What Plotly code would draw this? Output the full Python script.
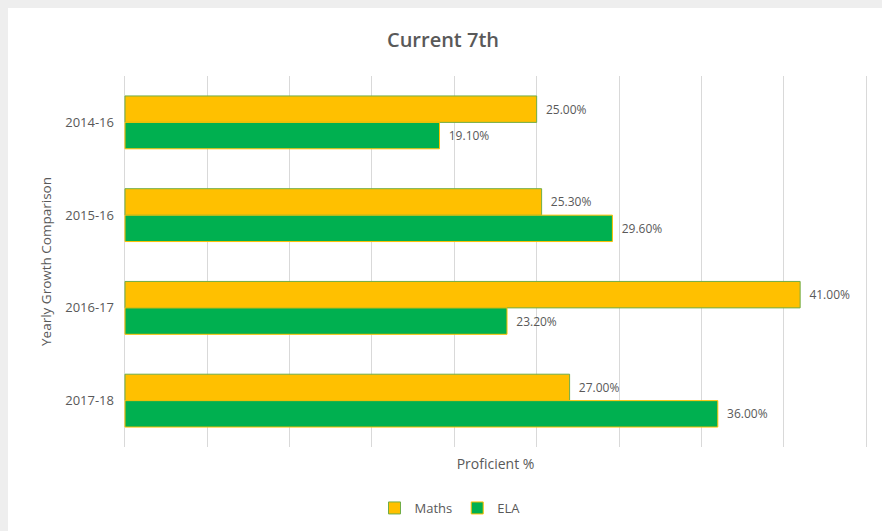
import plotly.graph_objects as go

categories = ["2014-16", "2015-16", "2016-17", "2017-18"]
maths = [25.0, 25.3, 41.0, 27.0]
ela = [19.1, 29.6, 23.2, 36.0]

# figure sits inside the page's 8px body margin (page shows grey frame)
W, H = 874, 523
ml, mr, mt, mb = 115, 14, 68, 84
pw = W - ml - mr
ph = H - mt - mb

font_family = "Open Sans, Liberation Sans, sans-serif"
grey = "#595959"
pad = "\u00a0\u00a0"

fig = go.Figure()
fig.add_trace(go.Bar(
    y=categories, x=maths, name="Maths", orientation="h",
    marker=dict(color="#FFC000", line=dict(color="#70AD47", width=1)),
    text=[f"{pad}{v:.2f}%" for v in maths], textposition="outside",
    textfont=dict(color=grey, size=12, family=font_family),
    cliponaxis=False,
))
fig.add_trace(go.Bar(
    y=categories, x=ela, name="ELA", orientation="h",
    marker=dict(color="#00B050", line=dict(color="#FFC000", width=1)),
    text=[f"{pad}{v:.2f}%" for v in ela], textposition="outside",
    textfont=dict(color=grey, size=12, family=font_family),
    cliponaxis=False,
))

def px_to_paper_x(px):
    return (px - ml) / pw

def px_to_paper_y(py):
    return (H - mb - py) / ph

fig.update_layout(
    width=W, height=H,
    margin=dict(l=ml, r=mr, t=mt, b=mb, autoexpand=False),
    paper_bgcolor="white",
    plot_bgcolor="white",
    barmode="group",
    bargap=0.43,
    bargroupgap=0,
    title=dict(text="Current 7th", x=px_to_paper_x(435), xref="paper", xanchor="center",
               y=1 - 32 / H, yanchor="middle",
               font=dict(family=font_family, size=20, color=grey, weight=600)),
    font=dict(family=font_family, color=grey, size=12),
    legend=dict(orientation="h", x=px_to_paper_x(442), xanchor="center",
                y=px_to_paper_y(500), yanchor="middle",
                font=dict(size=13, color=grey), itemwidth=30,
                bgcolor="rgba(0,0,0,0)", traceorder="normal"),
    showlegend=True,
)
fig.update_xaxes(range=[-0.12, 45.12], tick0=0, dtick=5, showticklabels=False, showgrid=True,
                 gridcolor="#d9d9d9", gridwidth=1, zeroline=False, showline=False,
                 ticks="",
                 title=dict(text="Proficient %", font=dict(size=14, color=grey), standoff=12))
fig.update_yaxes(autorange="reversed", showgrid=False, zeroline=False, showline=False,
                 ticks="", ticklabelstandoff=8, tickfont=dict(size=13, color=grey),
                 title=dict(text="Yearly Growth Comparison", font=dict(size=13.5, color=grey), standoff=10))

fig.write_html(
    "out.html",
    default_width=f"{W}px",
    default_height=f"{H}px",
    post_script="document.body.style.margin='8px 0 0 8px';"
                "document.body.style.background='#eeeeee';"
                "document.documentElement.style.background='#eeeeee';"
                "document.documentElement.style.overflow='hidden';",
)
